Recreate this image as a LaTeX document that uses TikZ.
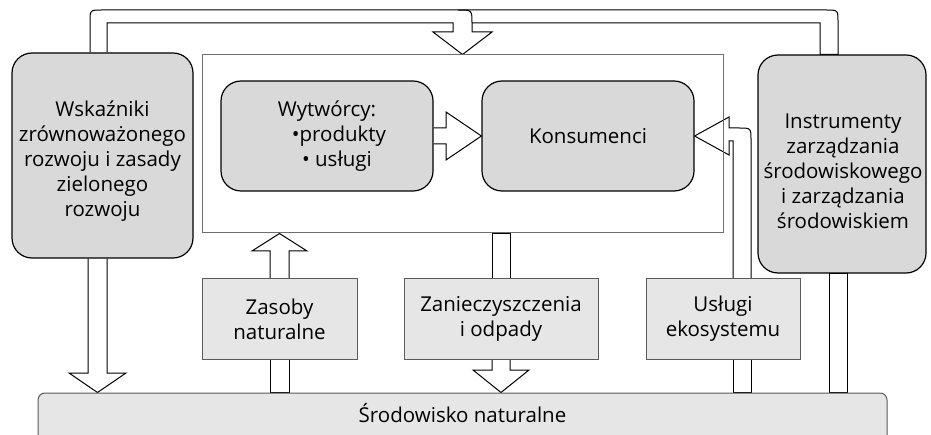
\documentclass[tikz,border=0pt]{standalone}
\usepackage{fontspec}
\setmainfont{Open Sans}
\usetikzlibrary{backgrounds}
\definecolor{boxgray}{HTML}{D9D9D9}
\definecolor{paleGray}{HTML}{E6E6E6}
\definecolor{edgegray}{HTML}{5A5A5A}
\definecolor{framegray}{HTML}{6E6E6E}
\begin{document}
\begin{tikzpicture}[x=1pt,y=-1pt,
  every node/.style={font=\fontsize{20.5}{25}\selectfont, align=center, inner sep=0pt},
  rbox/.style={draw=black, line width=1.2pt, fill=boxgray, rounded corners=20pt},
  lbox/.style={draw=edgegray, line width=1pt, fill=paleGray},
  blockarrow/.style={draw=black, line width=1pt, fill=white, line join=miter},
]
\useasboundingbox (0,0) rectangle (931,435);
\clip (0,0) rectangle (931,435);

% boxes
\node[rbox, minimum width=181pt, minimum height=205pt,
  label={[yshift=-6pt]center:Wskaźniki\\zrównoważonego\\rozwoju i zasady\\zielonego\\rozwoju}]
  (wsk) at (102.5,155.5) {};
\node[draw=framegray, line width=1pt, minimum width=521pt, minimum height=178pt] (frame) at (462.5,144) {};
\node[rbox, minimum width=212pt, minimum height=110pt] (wyt) at (327,136)
  {Wytwórcy:\\\hspace*{24pt}•produkty\\\hspace*{20pt}• usługi};
\node[rbox, minimum width=212pt, minimum height=110pt] (kon) at (588,136) {Konsumenci};
\node[rbox, minimum width=168pt, minimum height=218pt,
  label={[yshift=-7pt, xshift=1pt]center:Instrumenty\\zarządzania\\środowiskowego\\i zarządzania\\środowiskiem}]
  (ins) at (842,164) {};
\node[lbox, minimum width=155pt, minimum height=80pt] (zas) at (279.5,319) {Zasoby\\naturalne};
\node[lbox, minimum width=194pt, minimum height=80pt] (zan) at (501,319) {Zanieczyszczenia\\i odpady};
\node[lbox, minimum width=154pt, minimum height=80pt] (usl) at (723,319) {Usługi\\ekosystemu};
\node[lbox, rounded corners=7pt, minimum width=849pt, minimum height=60pt] (sro) at (462.5,423) {};
\node (srotxt) at (462.5,413) {Środowisko naturalne};

% block arrows, kept underneath the boxes
\begin{pgfonlayer}{background}
  % feedback loop from both side boxes into the central frame
  \draw[blockarrow] (90,0 |- wsk.north) -- (90,22) .. controls (90,10) .. (102,10)
    -- (826,10) .. controls (838,10) .. (838,22) -- (838,0 |- ins.north)
    -- (820,0 |- ins.north) -- (820,23) -- (472,23) -- (472,32) -- (492,32)
    -- (462.5,0 |- frame.north) -- (433,32) -- (453,32) -- (453,23) -- (107,23)
    -- (107,0 |- wsk.north);
  \draw[line width=1pt] (458,10) .. controls (472,10) .. (472,23);

  % indicators down to the environment
  \draw[blockarrow] (88,0 |- wsk.south) -- (88,373) -- (69,373) -- (97.5,0 |- sro.north)
    -- (126,373) -- (107,373) -- (107,0 |- wsk.south);

  % natural resources up into the frame
  \draw[blockarrow] (270,0 |- zas.north) -- (270,251) -- (252,251) -- (279.5,0 |- frame.south)
    -- (307,251) -- (289,251) -- (289,0 |- zas.north);
  \draw[blockarrow] (270,0 |- zas.south) rectangle (289,0 |- sro.north);

  % pollution out of the frame and down
  \draw[blockarrow] (492,0 |- frame.south) rectangle (510,0 |- zan.north);
  \draw[blockarrow] (492,0 |- zan.south) -- (492,370) -- (473,370) -- (501,0 |- sro.north)
    -- (529,370) -- (510,370) -- (510,0 |- zan.south);

  % ecosystem services up to the consumers
  \draw[blockarrow] (733,0 |- usl.south) rectangle (751,0 |- sro.north);
  \draw[blockarrow] (733,0 |- usl.north) -- (733,141) -- (729,141) -- (729,155) -- (kon.east)
    -- (729,117) -- (729,128) -- (739,128) .. controls (751,128) .. (751,140)
    -- (751,0 |- usl.north);

  % management instruments down to the environment
  \draw[blockarrow] (829,0 |- ins.south) rectangle (847,0 |- sro.north);

  % producers to consumers
  \draw[blockarrow] (wyt.east |- 0,128) -- (446,128) -- (446,112) -- (kon.west)
    -- (446,160) -- (446,144) -- (wyt.east |- 0,144);
\end{pgfonlayer}
\end{tikzpicture}
\end{document}
